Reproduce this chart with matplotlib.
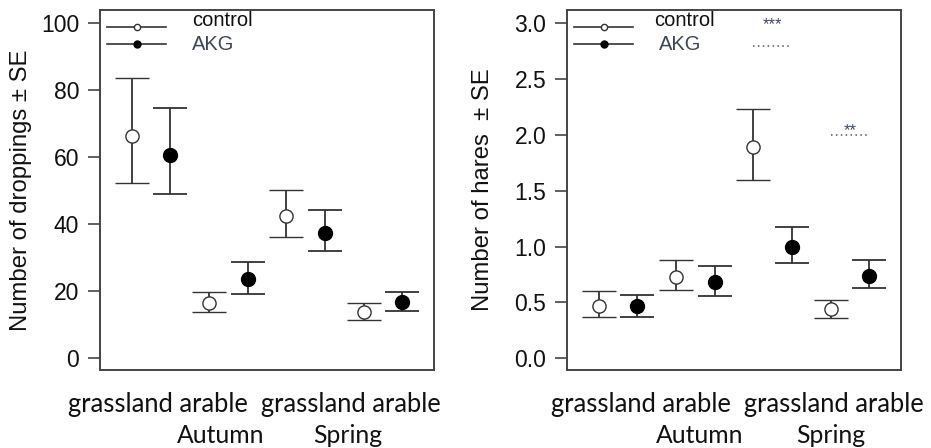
import numpy as np
import matplotlib.pyplot as plt

plt.rcParams['font.family'] = ['Liberation Sans', 'DejaVu Sans']

# habitat x season, control / AKG
pos_control = [1, 3, 5, 7]
pos_akg = [2, 4, 6, 8]

# droppings
drop_ctrl = [66.3, 16.5, 42.6, 13.7]
drop_ctrl_lo = [52.2, 13.7, 36.1, 11.3]
drop_ctrl_hi = [83.8, 19.7, 50.1, 16.5]
drop_akg = [60.8, 23.7, 37.5, 16.8]
drop_akg_lo = [49.2, 19.3, 32.0, 14.1]
drop_akg_hi = [74.8, 28.8, 44.4, 19.7]

# hares
hare_ctrl = [0.47, 0.73, 1.89, 0.44]
hare_ctrl_lo = [0.37, 0.61, 1.60, 0.36]
hare_ctrl_hi = [0.60, 0.88, 2.23, 0.52]
hare_akg = [0.47, 0.68, 1.00, 0.74]
hare_akg_lo = [0.37, 0.56, 0.85, 0.63]
hare_akg_hi = [0.57, 0.83, 1.18, 0.88]

# significance marks (x pair, line level, star text, star level)
sig_pairs = [(5, 6), (7, 8)]
sig_line = [2.8, 2.0]
sig_text = ['***', '**']
sig_text_y = [2.99, 2.04]

habitat_line = 'grassland arable  grassland arable'
seasons = ['Autumn', 'Spring']

ink = '#333333'

fig = plt.figure(figsize=(9.31, 4.48), dpi=100)
ax1 = fig.add_axes([0.1074, 0.1741, 0.3588, 0.8036])
ax2 = fig.add_axes([0.609, 0.1741, 0.3588, 0.8036])


def panel(ax, c, clo, chi, a, alo, ahi, ylim, yticks, ylabel):
    c, clo, chi = np.array(c), np.array(clo), np.array(chi)
    a, alo, ahi = np.array(a), np.array(alo), np.array(ahi)
    ax.errorbar(pos_control, c, yerr=[c - clo, chi - c], fmt='o', mfc='white',
                mec=ink, mew=1.0, ms=9.5, ecolor=ink, elinewidth=1.3,
                capsize=12, capthick=1.3, zorder=3)
    ax.errorbar(pos_akg, a, yerr=[a - alo, ahi - a], fmt='o', mfc='black',
                mec='black', ms=10, ecolor=ink, elinewidth=1.3,
                capsize=12, capthick=1.3, zorder=3)
    ax.set_xlim(0.18, 8.82)
    ax.set_ylim(*ylim)
    ax.set_yticks(yticks)
    ax.set_xticks([])
    for s in ax.spines.values():
        s.set_color('#444444')
        s.set_linewidth(1.4)
    ax.tick_params(axis='y', length=9, width=1.2, color='#444444',
                   labelsize=16.5, labelcolor='#111111', pad=6)
    ax.set_ylabel(ylabel, fontsize=17.2, color='#111111')


panel(ax1, drop_ctrl, drop_ctrl_lo, drop_ctrl_hi, drop_akg, drop_akg_lo,
      drop_akg_hi, (-3.5, 104), [0, 20, 40, 60, 80, 100],
      'Number of droppings ± SE')
panel(ax2, hare_ctrl, hare_ctrl_lo, hare_ctrl_hi, hare_akg, hare_akg_lo,
      hare_akg_hi, (-0.105, 3.12), [0, 0.5, 1, 1.5, 2, 2.5, 3],
      'Number of hares  ± SE')
ax1.set_yticklabels(['0', '20', '40', '60', '80', '100'])
ax2.set_yticklabels(['0.0', '0.5', '1.0', '1.5', '2.0', '2.5', '3.0'])
ax1.yaxis.set_label_coords(-0.205, 0.5)
ax2.yaxis.set_label_coords(-0.217, 0.5)

# legend key drawn by hand (R style)
for ax, tx_c, tx_a in [(ax1, 0.275, 0.275), (ax2, 0.26, 0.275)]:
    ax.plot([0.022, 0.197], [0.952, 0.952], color=ink, lw=1.2,
            transform=ax.transAxes, clip_on=False)
    ax.plot([0.11], [0.952], 'o', ms=4.5, mfc='white', mec=ink, mew=1,
            transform=ax.transAxes)
    ax.plot([0.022, 0.197], [0.906, 0.906], color=ink, lw=1.2,
            transform=ax.transAxes, clip_on=False)
    ax.plot([0.11], [0.906], 'o', ms=5, color='black',
            transform=ax.transAxes)
    ax.text(tx_c, 0.970, 'control', fontsize=14.5, color='#111111',
            va='center', ha='left', transform=ax.transAxes)
    ax.text(tx_a, 0.903, 'AKG', fontsize=14.5, color='#3d4656',
            va='center', ha='left', transform=ax.transAxes)

# significance
for (x0, x1), ly, st, sy in zip(sig_pairs, sig_line, sig_text, sig_text_y):
    ax2.plot([x0, x1], [ly, ly], color='#555555', lw=1.1, ls=(0, (1, 2.2)))
    ax2.text((x0 + x1) / 2, sy, st, fontsize=12, color='#3c4b66',
             ha='center', va='center')

# category labels under each panel
for cx, ax_c in [(0.2728, (0.2374, 0.3738)), (0.7922, (0.7519, 0.8926))]:
    fig.text(cx, 0.081, habitat_line, fontsize=18.4, family='Lato',
             color='#111111', ha='center', va='baseline')
    for x, s in zip(ax_c, seasons):
        fig.text(x, 0.0105, s, fontsize=17.8, family='Lato',
                 color='#111111', ha='center', va='baseline')

fig.savefig('out.png', dpi=100)
